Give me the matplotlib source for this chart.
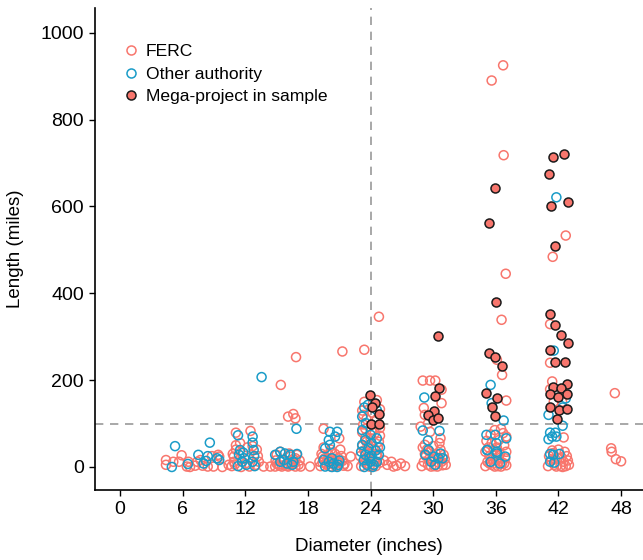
import matplotlib
matplotlib.use("Agg")
import matplotlib.pyplot as plt
from matplotlib.lines import Line2D

plt.rcParams['font.family'] = ['Liberation Sans', 'DejaVu Sans']

# ---- data (jittered diameter in inches, length in miles) ----
ferc_x = [4.4, 4.4, 5.9, 5.65, 6.55, 6.7, 7.2, 7.7, 8.95, 9.4, 9.8, 10.4, 5.1, 7.4, 7.9, 8.4, 9.5, 8.8, 6.4,
          11.1, 12.5, 11.1, 11.1, 12.7, 13.1, 10.9, 10.9, 10.7, 12.0, 13.3, 13.75, 14.4, 11.6, 12.4, 13.0, 11.0, 12.3, 13.2, 11.5, 12.2, 10.8,
          15.4, 16.86, 16.1, 16.6, 16.8, 15.0, 15.35, 16.2, 16.3, 16.8, 16.95, 14.86, 15.18, 15.5, 15.8, 16.1, 16.4, 16.8, 17.1, 15.0, 16.3, 14.9, 17.2, 15.6, 16.6, 15.3, 16.0, 16.7, 17.3, 18.2,
          19.5, 21.0, 22.1, 21.8, 19.2, 19.4, 19.6, 19.3, 19.8, 20.0, 20.2, 20.4, 20.6, 20.7, 21.0, 21.2, 21.4, 19.9, 20.5, 21.1, 19.5, 20.9, 19.1, 21.3, 20.2, 19.7, 20.8, 21.5, 20.3, 19.4,
          21.3, 23.4, 24.8, 23.3, 24.6, 24.9, 23.3, 23.6, 24.6, 24.2, 23.5, 24.9, 23.4, 23.2,
          23.1, 23.3, 23.5, 23.7, 23.9, 24.1, 24.3, 24.5, 24.7, 24.9, 23.2, 23.6, 24.0, 24.4, 24.8, 23.4, 24.2, 24.6, 23.8, 24.9, 23.0, 24.1, 23.5, 24.7, 23.9, 24.3, 23.2,
          25.6, 26.0, 26.5, 26.9, 27.3, 26.2, 25.3,
          29.0, 29.7, 30.2, 30.8, 29.7, 30.7, 29.2, 30.8, 29.1, 29.2, 28.8, 29.5,
          28.9, 29.1, 29.3, 29.5, 29.7, 29.9, 30.1, 30.3, 30.5, 30.7, 30.9, 31.1, 29.0, 29.4, 30.0, 30.6, 29.6, 30.4, 31.0, 29.2, 30.2, 29.8, 30.8, 31.2,
          36.7, 35.6, 36.75, 36.95, 36.55, 36.1, 36.6, 37.0,
          35.0, 35.2, 35.4, 35.6, 35.8, 36.0, 36.2, 36.4, 36.6, 36.8, 37.0, 35.1, 35.5, 35.9, 36.3, 36.7, 35.3, 36.1, 36.9, 35.7, 36.5, 35.9, 36.3, 35.0, 37.0, 36.0, 35.4, 36.8, 35.6, 36.5, 37.0,
          42.7, 41.45, 41.2, 41.2, 41.4, 41.2, 42.5, 41.55, 42.35,
          41.0, 41.3, 41.6, 41.9, 42.2, 42.5, 42.8, 43.0, 41.4, 42.0, 42.6, 41.8, 42.4, 42.9, 41.1, 41.7, 42.3, 42.7, 41.5,
          47.4, 47.05, 47.1, 47.5, 48.0]
ferc_y = [16, 5, 27, 12, 12, 0, 3, 16, 1, 28, 0, 5, 12, 12, 3, 1, 24, 25, 1,
          79, 83, 50, 40, 48, 40, 24, 12, 2, 8, 12, 1, 1, 0, 1, 5, 6, 20, 25, 55, 45, 30,
          189, 253, 116, 122, 112, 28, 35, 31, 24, 20, 28, 1, 5, 1, 5, 1, 5, 1, 5, 8, 10, 15, 15, 15, 18, 3, 3, 8, 1, 1,
          88, 66, 24, 2, 2, 10, 20, 30, 5, 28, 40, 15, 30, 2, 10, 25, 3, 18, 5, 40, 45, 20, 12, 14, 1, 8, 12, 7, 33, 24,
          266, 270, 346, 120, 154, 133, 98, 110, 110, 125, 88, 90, 150, 130,
          2, 12, 20, 8, 32, 18, 40, 2, 22, 10, 48, 58, 66, 78, 58, 38, 4, 30, 50, 72, 25, 85, 68, 45, 1, 14, 80,
          5, 12, 3, 8, 2, 1, 15,
          199, 199, 199, 147, 81, 66, 51, 178, 136, 120, 93, 100,
          2, 12, 25, 5, 35, 15, 2, 30, 10, 40, 4, 18, 45, 40, 48, 55, 18, 1, 28, 30, 20, 1, 12, 5,
          925, 890, 718, 445, 339, 247, 212, 153,
          2, 12, 25, 5, 40, 15, 2, 30, 10, 50, 4, 60, 75, 85, 62, 78, 45, 45, 20, 18, 1, 1, 20, 35, 35, 28, 8, 8, 55, 88, 70,
          533, 484, 329, 240, 197, 179, 68, 150, 150,
          2, 15, 5, 20, 2, 12, 25, 5, 38, 40, 35, 1, 0, 15, 25, 18, 22, 2, 32,
          170, 43, 35, 18, 13]

other_x = [4.96, 5.27, 6.5, 7.5, 8.0, 8.25, 8.4, 8.6, 9.3, 9.5,
           11.3, 12.7, 12.7, 11.5, 11.8, 11.4, 11.9, 11.7, 12.8, 12.85, 12.7, 11.3, 12.1, 12.9, 13.56,
           14.86, 15.35, 15.8, 16.3, 16.95, 15.7, 16.0, 16.5, 15.35, 16.6, 16.9,
           20.1, 20.8, 20.0, 20.6, 19.65, 20.1, 19.5, 20.0, 20.45, 20.9, 19.65, 20.3, 20.8, 20.3, 21.0,
           23.75, 23.2, 23.55, 23.2, 24.0, 23.5, 24.1, 24.6, 23.2, 23.8, 23.5, 24.1, 24.8, 23.35, 24.0, 24.6, 23.65, 24.3, 24.9, 23.1, 24.5, 23.9, 24.2, 23.4, 23.4, 24.6,
           29.15, 29.0, 30.6, 29.5, 29.25, 30.05, 30.5, 30.9, 29.8, 30.2, 29.55, 30.7,
           35.5, 35.6, 36.75, 36.05, 35.2, 36.1, 36.9, 35.5, 36.4, 37.0, 35.1, 35.95, 35.15, 36.1,
           41.8, 41.55, 42.7, 42.4, 41.05, 42.4, 41.2, 41.7, 41.4, 41.8, 41.05, 41.2, 41.5, 42.1, 41.2, 41.6]
other_y = [0, 48, 7, 28, 8, 14, 25, 56, 20, 16,
           73, 70, 56, 39, 33, 28, 20, 12, 39, 25, 12, 2, 5, 2, 207,
           28, 35, 31, 28, 30, 16, 8, 5, 12, 12, 88,
           81, 81, 62, 70, 43, 51, 16, 12, 8, 5, 1, 0, 0, 20, 15,
           143, 116, 101, 85, 74, 62, 55, 66, 51, 43, 28, 26, 28, 16, 12, 12, 5, 5, 45, 35, 38, 20, 0, 0, 137, 131,
           160, 84, 83, 61, 28, 24, 20, 20, 12, 5, 39, 31,
           189, 147, 107, 55, 39, 35, 24, 12, 8, 66, 74, 74, 39, 31,
           621, 268, 158, 137, 120, 95, 79, 79, 70, 70, 64, 30, 28, 30, 12, 10]

mega_x = [23.9, 24.4, 24.1, 24.8, 24.0, 24.8,
          30.5, 30.6, 30.2, 30.05, 29.55, 29.95, 30.5,
          35.95, 35.35, 36.05, 35.3, 35.95, 36.6, 35.1, 36.15, 35.65, 35.95,
          41.5, 42.5, 41.1, 41.3, 42.9, 41.7, 41.2, 41.7, 42.25, 42.9, 41.2, 41.65, 42.6, 42.8, 41.45, 42.2, 41.2, 42.8, 42.0, 41.2, 42.05, 42.8, 41.9]
mega_y = [166, 148, 139, 121, 99, 99,
          302, 181, 164, 130, 120, 108, 112,
          643, 561, 380, 262, 254, 233, 170, 158, 138, 117,
          713, 720, 675, 601, 610, 508, 352, 328, 304, 285, 270, 242, 242, 190, 184, 181, 167, 168, 162, 137, 131, 133, 110]

series_labels = ["FERC", "Other authority", "Mega-project in sample"]
x_ticks = [0, 6, 12, 18, 24, 30, 36, 42, 48]
y_ticks = [0, 200, 400, 600, 800, 1000]

salmon = "#F8766D"
blue = "#1A9CC8"

fig = plt.figure(figsize=(6.43, 5.6), dpi=100)
ax = fig.add_axes([95 / 643, 70 / 560, 548 / 643, 482 / 560])

ax.axhline(100, color="#9a9a9a", lw=1.2, dashes=(5, 4), zorder=1)
ax.axvline(24, color="#9a9a9a", lw=1.2, dashes=(5, 4), zorder=1)

s = 42
ax.scatter(ferc_x, ferc_y, s=s, facecolors="none", edgecolors=salmon, linewidths=1.1, zorder=2)
ax.scatter(other_x, other_y, s=s, facecolors="none", edgecolors=blue, linewidths=1.1, zorder=3)
ax.scatter(mega_x, mega_y, s=s, facecolors=salmon, edgecolors="#1a1a1a", linewidths=1.1, zorder=4)

ax.set_xlim(-2.4, 50.1)
ax.set_ylim(-53, 1057)
ax.set_xticks(x_ticks)
ax.set_yticks(y_ticks)
ax.tick_params(axis="both", labelsize=14, length=4, width=1, color="black", pad=4)
for sp in ["top", "right"]:
    ax.spines[sp].set_visible(False)
for sp in ["left", "bottom"]:
    ax.spines[sp].set_linewidth(1.2)

ax.set_xlabel("Diameter (inches)", fontsize=13.5, labelpad=14)
ax.set_ylabel("Length (miles)", fontsize=13.5, labelpad=12)

handles = [
    Line2D([], [], ls="none", marker="o", markersize=6.5, markerfacecolor="none", markeredgecolor=salmon, markeredgewidth=1.1),
    Line2D([], [], ls="none", marker="o", markersize=6.5, markerfacecolor="none", markeredgecolor=blue, markeredgewidth=1.1),
    Line2D([], [], ls="none", marker="o", markersize=6.5, markerfacecolor=salmon, markeredgecolor="#1a1a1a", markeredgewidth=1.1),
]
ax.legend(handles, series_labels, loc="upper left", bbox_to_anchor=(0.04, 0.94), frameon=False,
          fontsize=12.6, handlelength=0.8, handletextpad=0.45, labelspacing=0.42, borderaxespad=0)

fig.savefig("out.png", dpi=100)
